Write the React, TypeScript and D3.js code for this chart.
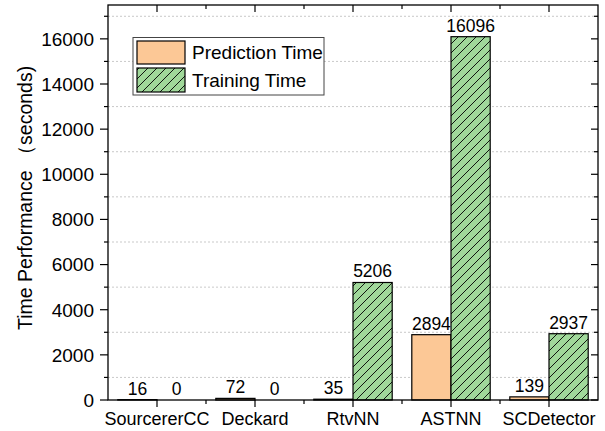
import * as d3 from 'd3'

const categories = ['SourcererCC', 'Deckard', 'RtvNN', 'ASTNN', 'SCDetector']
const predictionTime = [16, 72, 35, 2894, 139]
const trainingTime = [0, 0, 5206, 16096, 2937]
const majorTicks = [0, 2000, 4000, 6000, 8000, 10000, 12000, 14000, 16000]
const minorTicks = [1000, 3000, 5000, 7000, 9000, 11000, 13000, 15000, 17000]

const W = 605, H = 431
const M = { top: 5, right: 7, bottom: 31, left: 108 }
const FONT = 'Arial, "Liberation Sans", sans-serif'
const PRED_FILL = '#FCC896'
const TRAIN_FILL = '#A0D89A'

export default function App() {
  const x = d3.scaleBand<string>().domain(categories).range([M.left, W - M.right]).paddingInner(0).paddingOuter(0)
  const y = d3.scaleLinear().domain([0, 17500]).range([H - M.bottom, M.top])
  const bw = x.bandwidth() * 0.4
  const x0 = M.left, x1 = W - M.right, y0 = H - M.bottom, y1 = M.top

  // minor x ticks at band edges, major at band centres
  const edges = categories.slice(1).map((c) => x(c)!)

  return (
    <svg width={W} height={H} style={{ position: 'absolute', left: 0, top: 0, background: '#fff' }} fontFamily={FONT}>
      <defs>
        <pattern id="hatch" patternUnits="userSpaceOnUse" width={9} height={9}>
          <rect width={9} height={9} fill={TRAIN_FILL} />
          <path d="M-2,2 L2,-2 M0,9 L9,0 M7,11 L11,7" stroke="#000" strokeWidth={0.9} />
        </pattern>
      </defs>

      {/* dotted grid at odd thousands */}
      {minorTicks.map((t) => (
        <line key={t} x1={x0} x2={x1} y1={y(t)} y2={y(t)} stroke="#bbb" strokeWidth={0.8} strokeDasharray="2 2" />
      ))}

      {/* bars */}
      {categories.map((c, i) => {
        const cx = x(c)! + x.bandwidth() / 2
        return (
          <g key={c}>
            <rect x={cx - bw} y={y(predictionTime[i])} width={bw} height={y0 - y(predictionTime[i])}
              fill={PRED_FILL} stroke="#000" strokeWidth={1.2} />
            <rect x={cx} y={y(trainingTime[i])} width={bw} height={y0 - y(trainingTime[i])}
              fill="url(#hatch)" stroke="#000" strokeWidth={1.2} />
            <text x={cx - bw / 2} y={y(predictionTime[i]) - 5} textAnchor="middle" fontSize={17.5}>{predictionTime[i]}</text>
            <text x={cx + bw / 2} y={y(trainingTime[i]) - 5} textAnchor="middle" fontSize={17.5}>{trainingTime[i]}</text>
          </g>
        )
      })}

      {/* frame */}
      <rect x={x0} y={y1} width={x1 - x0} height={y0 - y1} fill="none" stroke="#000" strokeWidth={1.3} />

      {/* left + right axes */}
      {majorTicks.map((t) => (
        <g key={t}>
          <line x1={x0 - 8} x2={x0} y1={y(t)} y2={y(t)} stroke="#000" strokeWidth={1.2} />
          <line x1={x1 - 7} x2={x1} y1={y(t)} y2={y(t)} stroke="#000" strokeWidth={1.2} />
          <text x={x0 - 14} y={y(t)} dy="0.36em" textAnchor="end" fontSize={19}>{t}</text>
        </g>
      ))}
      {minorTicks.map((t) => (
        <g key={t}>
          <line x1={x0 - 4} x2={x0} y1={y(t)} y2={y(t)} stroke="#000" strokeWidth={1.2} />
          <line x1={x1 - 4} x2={x1} y1={y(t)} y2={y(t)} stroke="#000" strokeWidth={1.2} />
        </g>
      ))}

      {/* bottom + top axes */}
      {categories.map((c) => {
        const cx = x(c)! + x.bandwidth() / 2
        return (
          <g key={c}>
            <line x1={cx} x2={cx} y1={y0} y2={y0 + 7} stroke="#000" strokeWidth={1.2} />
            <line x1={cx} x2={cx} y1={y1} y2={y1 + 7} stroke="#000" strokeWidth={1.2} />
            <text x={cx} y={y0 + 25} textAnchor="middle" fontSize={18}>{c}</text>
          </g>
        )
      })}
      {edges.map((e) => (
        <g key={e}>
          <line x1={e} x2={e} y1={y0} y2={y0 + 4} stroke="#000" strokeWidth={1.2} />
          <line x1={e} x2={e} y1={y1} y2={y1 + 4} stroke="#000" strokeWidth={1.2} />
        </g>
      ))}

      {/* y label */}
      <text transform="translate(32,330) rotate(-90)" textAnchor="start" fontSize={19.5}>
        Time Performance （seconds)
      </text>

      {/* legend */}
      <g>
        <rect x={133} y={37.5} width={191} height={57.5} fill="#fff" stroke="#444" strokeWidth={1} />
        <rect x={137} y={41} width={48} height={23} fill={PRED_FILL} stroke="#000" strokeWidth={1.2} />
        <rect x={137} y={68} width={48} height={24} fill="url(#hatch)" stroke="#000" strokeWidth={1.2} />
        <text x={192} y={52.5} dy="0.36em" fontSize={19}>Prediction Time</text>
        <text x={192} y={80} dy="0.36em" fontSize={19}>Training Time</text>
      </g>
    </svg>
  )
}
